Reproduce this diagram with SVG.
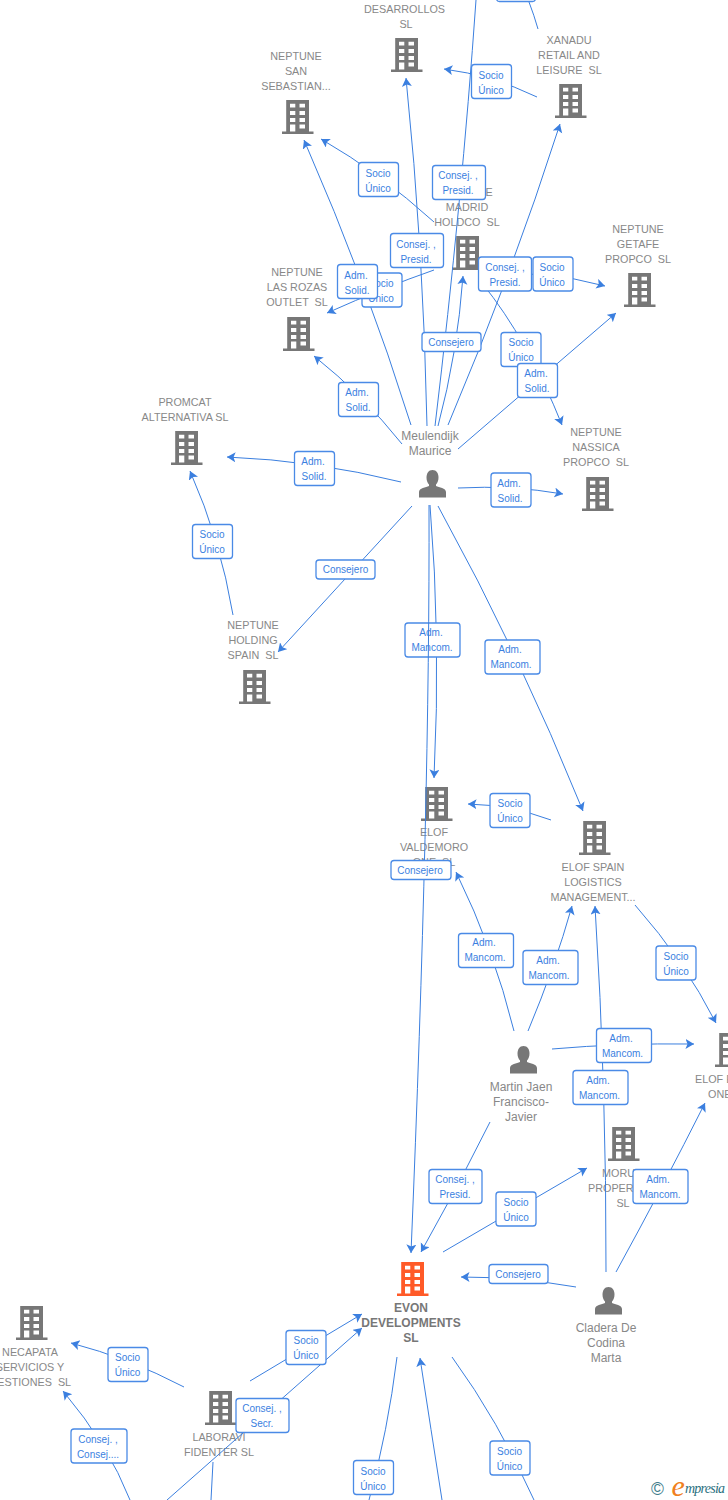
<svg xmlns="http://www.w3.org/2000/svg" width="728" height="1500" viewBox="0 0 728 1500">
<style>
text{font-family:"Liberation Sans",Arial,sans-serif;white-space:pre}
.n{font-size:10.8px;fill:#888;text-anchor:middle}
.ns{font-size:10.8px;fill:#888}
.p{font-size:12px;fill:#888;text-anchor:middle}
.m{font-size:12px;font-weight:bold;fill:#777;text-anchor:middle}
.c{fill:none;stroke:#3b7fdf;stroke-width:1;marker-end:url(#a)}
.e{fill:none;stroke:#3b7fdf;stroke-width:1}
.b{fill:#fff;stroke:#4a8ae6;stroke-width:1.3}
.l{font-size:10px;fill:#3b7fdf;text-anchor:middle}
.g{fill:#777}
.o{fill:#ff5a28}
</style>
<defs>
<marker id="a" markerUnits="userSpaceOnUse" markerWidth="11" markerHeight="11" refX="8.500" refY="5" orient="auto"><path d="M8.500,5 L0,0 L2,5 L0,10 Z" fill="#3b7fdf"/></marker>
<path id="bd" fill-rule="evenodd" d="M4.200,0H27V31.500H31.500V34H0V31.500H4.200ZM8,3.700V7.500H13.300V3.700ZM17.500,3.700V7.500H23V3.700ZM8,11V15H13.300V11ZM17.500,11V15H23V11ZM8,18V22H13.300V18ZM17.500,18V22H23V18ZM8,24.500V31.500H13.300V24.500ZM17.500,24.500V28.500H23V24.500Z"/>
<path id="pr" d="M13.500,0C17.500,0 19.500,3.500 19.500,7.500C19.500,10.500 18.500,13 17,14.500V16C20,17.500 27,18 27,22V27.500H0V22C0,18 7,17.500 10,16V14.500C8.500,13 7.500,10.500 7.500,7.500C7.500,3.500 9.500,0 13.500,0Z"/>
</defs>

<g id="node-desarrollos"><text class="n" x="404.500" y="13">DESARROLLOS</text><text class="n" x="406" y="28">SL</text><use href="#bd" class="g" x="391" y="38"/></g>
<g id="node-san-sebastian"><text class="n" x="296" y="60">NEPTUNE</text><text class="n" x="296" y="75">SAN</text><text class="n" x="296" y="90">SEBASTIAN...</text><use href="#bd" class="g" x="282" y="100"/></g>
<g id="node-xanadu"><text class="n" x="569" y="44">XANADU</text><text class="n" x="569" y="59">RETAIL AND</text><text class="n" x="569" y="74">LEISURE  SL</text><use href="#bd" class="g" x="555" y="84"/></g>
<g id="node-madrid"><text class="n" x="467" y="196">NEPTUNE</text><text class="n" x="467" y="211">MADRID</text><text class="n" x="467" y="226">HOLDCO  SL</text><use href="#bd" class="g" x="452" y="236"/></g>
<g id="node-getafe"><text class="n" x="638" y="233">NEPTUNE</text><text class="n" x="638" y="248">GETAFE</text><text class="n" x="638" y="263">PROPCO  SL</text><use href="#bd" class="g" x="624" y="273"/></g>
<g id="node-las-rozas"><text class="n" x="297" y="276">NEPTUNE</text><text class="n" x="297" y="291">LAS ROZAS</text><text class="n" x="297" y="306">OUTLET  SL</text><use href="#bd" class="g" x="283" y="317"/></g>
<g id="node-promcat"><text class="n" x="185" y="406">PROMCAT</text><text class="n" x="185" y="421">ALTERNATIVA SL</text><use href="#bd" class="g" x="171" y="431"/></g>
<g id="node-nassica"><text class="n" x="596" y="436">NEPTUNE</text><text class="n" x="596" y="451">NASSICA</text><text class="n" x="596" y="466">PROPCO  SL</text><use href="#bd" class="g" x="582" y="477"/></g>
<g id="node-holding"><text class="n" x="253" y="629">NEPTUNE</text><text class="n" x="253" y="644">HOLDING</text><text class="n" x="253" y="659">SPAIN  SL</text><use href="#bd" class="g" x="239" y="670"/></g>
<g id="node-valdemoro"><use href="#bd" class="g" x="421" y="787"/><text class="n" x="434" y="836">ELOF</text><text class="n" x="434" y="851">VALDEMORO</text><text class="n" x="434" y="866">ONE  SL</text></g>
<g id="node-elof-spain"><use href="#bd" class="g" x="579" y="821"/><text class="n" x="593" y="871">ELOF SPAIN</text><text class="n" x="593" y="886">LOGISTICS</text><text class="n" x="593" y="901">MANAGEMENT...</text></g>
<g id="node-elof-one"><use href="#bd" class="g" x="715" y="1033"/><text class="ns" x="695" y="1083">ELOF E</text><text class="ns" x="708" y="1098">ONE</text></g>
<g id="node-moru"><use href="#bd" class="g" x="608" y="1127"/><text class="ns" x="602" y="1177">MORU</text><text class="ns" x="588" y="1192">PROPER</text><text class="n" x="623" y="1207">SL</text></g>
<g id="node-evon"><use href="#bd" class="o" x="397" y="1262"/><text class="m" x="411" y="1312">EVON</text><text class="m" x="411" y="1327">DEVELOPMENTS</text><text class="m" x="411" y="1342">SL</text></g>
<g id="node-necapata"><use href="#bd" class="g" x="16" y="1306"/><text class="n" x="30" y="1356">NECAPATA</text><text class="n" x="30" y="1371">SERVICIOS Y</text><text class="n" x="30" y="1386">GESTIONES  SL</text></g>
<g id="node-laboravi"><use href="#bd" class="g" x="205" y="1391"/><text class="n" x="219" y="1441">LABORAVI</text><text class="n" x="219" y="1456">FIDENTER SL</text></g>
<g id="node-meulendijk"><text class="p" x="430" y="440">Meulendijk</text><text class="p" x="430" y="455">Maurice</text><use href="#pr" class="g" x="419" y="470"/></g>
<g id="node-martin"><use href="#pr" class="g" x="510" y="1046"/><text class="p" x="521" y="1091">Martin Jaen</text><text class="p" x="521" y="1106">Francisco-</text><text class="p" x="521" y="1121">Javier</text></g>
<g id="node-cladera"><use href="#pr" class="g" x="595" y="1287"/><text class="p" x="606" y="1332">Cladera De</text><text class="p" x="606" y="1347">Codina</text><text class="p" x="606" y="1362">Marta</text></g>

<g id="connectors">
<path class="e" d="M435,426Q462,200 476,0"/>
<path class="c" d="M427,426Q423.500,248 406,78"/>
<path class="c" d="M411,425Q366.500,283 304,140"/>
<path class="c" d="M434,222Q380,173 321,139"/>
<path class="c" d="M434,270Q385,287 327,313"/>
<path class="c" d="M438,426Q457.500,353 463,276"/>
<path class="c" d="M448,425Q512,274 560,124"/>
<path class="c" d="M537,97Q491.500,75 444,69"/>
<path class="e" d="M529,2Q534,15 538,29"/>
<path class="c" d="M478,276Q540,268 605,286"/>
<path class="c" d="M482,283Q528,340 562,425"/>
<path class="c" d="M458,449L616,313"/>
<path class="c" d="M402,444Q363,395 314,356"/>
<path class="c" d="M401,482Q315,460.500 227,457"/>
<path class="c" d="M458,488Q511.500,485 563,494"/>
<path class="c" d="M233,615Q220.500,540 190,471"/>
<path class="c" d="M412,506L278,652"/>
<path class="c" d="M430,505Q441,638 434,778"/>
<g><rect class="b" x="405" y="623" width="55" height="34" rx="3"/><text class="l" x="431" y="636">Adm.</text><text class="l" x="432" y="651">Mancom.</text></g>
<path class="c" d="M429,505Q430,800 411,1253"/>
<path class="c" d="M438,506Q520,655 583,811"/>
<path class="c" d="M551,820Q510.500,805 468,804"/>
<path class="c" d="M514,1031Q494,949.500 456,872"/>
<path class="c" d="M528,1031Q555,966.500 572,906"/>
<path class="c" d="M606,1272Q606.500,1089 595,906"/>
<path class="c" d="M552,1049Q620,1043 694,1044"/>
<path class="c" d="M635,905Q684.500,961 716,1023"/>
<path class="c" d="M616,1272Q663.500,1185.500 705,1103"/>
<path class="c" d="M490,1122Q458.500,1186 421,1252"/>
<path class="c" d="M443,1252L587,1168"/>
<path class="c" d="M576,1287Q518.500,1277 461,1277"/>
<path class="c" d="M184,1387Q128.500,1358 71,1343"/>
<path class="c" d="M250,1381L362,1314"/>
<path class="c" d="M167,1500L362,1328"/>
<path class="c" d="M130,1500Q108.500,1445 63,1391"/>
<path class="e" d="M213,1462L211,1500"/>
<path class="e" d="M397,1357Q388,1430 369,1500"/>
<path class="c" d="M442,1500Q431,1430 420,1358"/>
<path class="e" d="M452,1357Q498,1420 534,1500"/>
</g>

<g id="connector-labels">
<rect class="b" x="496.500" y="-30" width="39" height="31.500" rx="3"/>
<g><rect class="b" x="471.500" y="64.500" width="40" height="34" rx="3"/><text class="l" x="491" y="78.500">Socio</text><text class="l" x="491" y="93.500">Único</text></g>
<g><rect class="b" x="358.500" y="162.500" width="40" height="34" rx="3"/><text class="l" x="378" y="176.500">Socio</text><text class="l" x="378" y="191.500">Único</text></g>
<g><rect class="b" x="432.500" y="165.500" width="53" height="34" rx="3"/><text class="l" x="458" y="178.500">Consej. ,</text><text class="l" x="458" y="193.500">Presid.</text></g>
<g><rect class="b" x="390.500" y="233.500" width="53" height="34" rx="3"/><text class="l" x="416" y="247.500">Consej. ,</text><text class="l" x="416" y="262.500">Presid.</text></g>
<g><rect class="b" x="362" y="273" width="40" height="34" rx="3"/><text class="l" x="381" y="287">Socio</text><text class="l" x="381" y="302">Único</text></g>
<g><rect class="b" x="337.500" y="264.500" width="40" height="34" rx="3"/><text class="l" x="356" y="278.500">Adm.</text><text class="l" x="357" y="293.500">Solid.</text></g>
<g><rect class="b" x="478.500" y="257" width="53" height="34" rx="3"/><text class="l" x="505" y="270.500">Consej. ,</text><text class="l" x="505" y="285.500">Presid.</text></g>
<g><rect class="b" x="533" y="257" width="40" height="34" rx="3"/><text class="l" x="552" y="270.500">Socio</text><text class="l" x="552" y="285.500">Único</text></g>
<g><rect class="b" x="422" y="332.500" width="59" height="19" rx="3"/><text class="l" x="451" y="346">Consejero</text></g>
<g><rect class="b" x="501" y="332.500" width="40" height="34" rx="3"/><text class="l" x="521" y="345.500">Socio</text><text class="l" x="521" y="360.500">Único</text></g>
<g><rect class="b" x="517.500" y="363.500" width="40" height="34" rx="3"/><text class="l" x="536" y="376.500">Adm.</text><text class="l" x="537" y="391.500">Solid.</text></g>
<g><rect class="b" x="338.500" y="382.500" width="40" height="34" rx="3"/><text class="l" x="357" y="395.500">Adm.</text><text class="l" x="358" y="410.500">Solid.</text></g>
<g><rect class="b" x="294.500" y="451.500" width="40" height="34" rx="3"/><text class="l" x="313" y="464.500">Adm.</text><text class="l" x="314" y="479.500">Solid.</text></g>
<g><rect class="b" x="491" y="473" width="40" height="34" rx="3"/><text class="l" x="509" y="486.500">Adm.</text><text class="l" x="510" y="501.500">Solid.</text></g>
<g><rect class="b" x="192.500" y="524.500" width="40" height="34" rx="3"/><text class="l" x="212" y="538">Socio</text><text class="l" x="212" y="553">Único</text></g>
<g><rect class="b" x="316" y="560" width="59" height="19" rx="3"/><text class="l" x="345.500" y="573">Consejero</text></g>
<g><rect class="b" x="485" y="640" width="55" height="34" rx="3"/><text class="l" x="510" y="653">Adm.</text><text class="l" x="511" y="668">Mancom.</text></g>
<g><rect class="b" x="490" y="793.500" width="40" height="34" rx="3"/><text class="l" x="510" y="807">Socio</text><text class="l" x="510" y="822">Único</text></g>
<g><rect class="b" x="391" y="860.500" width="60" height="19" rx="3"/><text class="l" x="420" y="874">Consejero</text></g>
<g><rect class="b" x="458.500" y="933.500" width="55" height="34" rx="3"/><text class="l" x="484" y="946">Adm.</text><text class="l" x="485" y="961">Mancom.</text></g>
<g><rect class="b" x="523" y="950.500" width="55" height="34" rx="3"/><text class="l" x="548" y="964">Adm.</text><text class="l" x="549" y="979">Mancom.</text></g>
<g><rect class="b" x="656" y="946" width="40" height="34" rx="3"/><text class="l" x="676" y="959.500">Socio</text><text class="l" x="676" y="974.500">Único</text></g>
<g><rect class="b" x="596.500" y="1028.500" width="55" height="34" rx="3"/><text class="l" x="621" y="1042">Adm.</text><text class="l" x="622.500" y="1057">Mancom.</text></g>
<g><rect class="b" x="573" y="1070.500" width="55" height="34" rx="3"/><text class="l" x="598" y="1084">Adm.</text><text class="l" x="599.500" y="1099">Mancom.</text></g>
<g><rect class="b" x="429" y="1169.500" width="53" height="34" rx="3"/><text class="l" x="455" y="1182.500">Consej. ,</text><text class="l" x="455" y="1197.500">Presid.</text></g>
<g><rect class="b" x="496" y="1192" width="40" height="34" rx="3"/><text class="l" x="516" y="1205.500">Socio</text><text class="l" x="516" y="1220.500">Único</text></g>
<g><rect class="b" x="633" y="1169.500" width="55" height="34" rx="3"/><text class="l" x="658" y="1183">Adm.</text><text class="l" x="660" y="1198">Mancom.</text></g>
<g><rect class="b" x="489" y="1264.500" width="59" height="19" rx="3"/><text class="l" x="518" y="1277.500">Consejero</text></g>
<g><rect class="b" x="108" y="1347.500" width="40" height="34" rx="3"/><text class="l" x="127.500" y="1360.500">Socio</text><text class="l" x="127.500" y="1375.500">Único</text></g>
<g><rect class="b" x="286" y="1330.500" width="40" height="34" rx="3"/><text class="l" x="306" y="1343.500">Socio</text><text class="l" x="306" y="1358.500">Único</text></g>
<g><rect class="b" x="236" y="1398.500" width="53" height="34" rx="3"/><text class="l" x="262" y="1411.500">Consej. ,</text><text class="l" x="262" y="1426.500">Secr.</text></g>
<g><rect class="b" x="71" y="1429" width="56" height="34" rx="3"/><text class="l" x="98" y="1442.500">Consej. ,</text><text class="l" x="98" y="1457.500">Consej....</text></g>
<g><rect class="b" x="353.500" y="1460.500" width="40" height="34" rx="3"/><text class="l" x="373" y="1474.500">Socio</text><text class="l" x="373" y="1489.500">Único</text></g>
<g><rect class="b" x="490" y="1441" width="40" height="34" rx="3"/><text class="l" x="509.500" y="1454.500">Socio</text><text class="l" x="509.500" y="1469.500">Único</text></g>
</g>

<g id="logo"><text x="651" y="1495" style="font-size:17.500px;fill:#3f7d8c">©</text><text x="671.500" y="1496" style="font-family:'Liberation Serif',serif;font-style:italic;font-size:30px;fill:#f08020">e</text><text x="685" y="1493" textLength="40" style="font-family:'Liberation Serif',serif;font-style:italic;font-size:14px;fill:#2a7080">mpresia</text></g>
</svg>
